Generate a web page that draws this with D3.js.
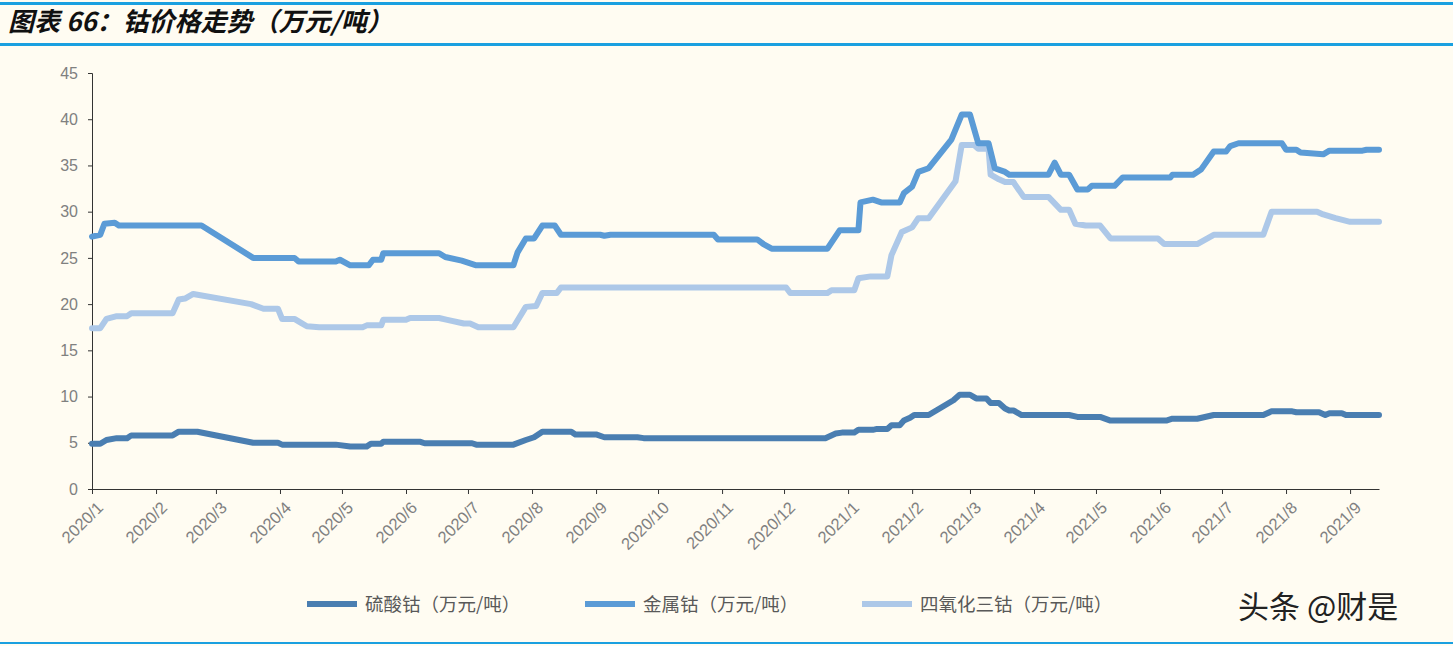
<!DOCTYPE html><html><head><meta charset="utf-8">
<script src="https://cdn.jsdelivr.net/npm/d3@7/dist/d3.min.js"></script>
<style>body{margin:0;background:#fffcf2;}svg{display:block;font-family:"Liberation Sans",Arial,sans-serif;}</style></head><body>
<svg id="c" width="1453" height="646"></svg>
<script>
const title = "图表 66：钴价格走势（万元/吨）";
const seriesNames = ["硫酸钴（万元/吨）","金属钴（万元/吨）","四氧化三钴（万元/吨）"];
const seriesColors = ["#4a7eb1","#5b9bd6","#adc8e8"];
const yTicks = [0,5,10,15,20,25,30,35,40,45];
const xTickLabels = ["2020/1","2020/2","2020/3","2020/4","2020/5","2020/6","2020/7","2020/8","2020/9","2020/10","2020/11","2020/12","2021/1","2021/2","2021/3","2021/4","2021/5","2021/6","2021/7","2021/8","2021/9"];

const sulfateDates = ["2020-01-01","2020-01-05","2020-01-08","2020-01-13","2020-01-18","2020-01-20","2020-02-09","2020-02-12","2020-02-21","2020-03-19","2020-03-31","2020-04-02","2020-04-28","2020-05-05","2020-05-13","2020-05-15","2020-05-20","2020-05-21","2020-06-08","2020-06-10","2020-07-03","2020-07-05","2020-07-23","2020-07-29","2020-08-02","2020-08-06","2020-08-20","2020-08-22","2020-09-01","2020-09-05","2020-09-21","2020-09-24","2020-12-21","2020-12-26","2020-12-29","2021-01-04","2021-01-06","2021-01-13","2021-01-15","2021-01-20","2021-01-22","2021-01-26","2021-01-28","2021-01-31","2021-02-02","2021-02-09","2021-02-21","2021-02-24","2021-03-01","2021-03-04","2021-03-09","2021-03-11","2021-03-15","2021-03-18","2021-03-20","2021-03-22","2021-03-26","2021-04-18","2021-04-22","2021-05-03","2021-05-08","2021-06-04","2021-06-07","2021-06-19","2021-06-27","2021-07-21","2021-07-25","2021-08-04","2021-08-06","2021-08-17","2021-08-20","2021-08-22","2021-08-28","2021-08-30","2021-09-15"];
const sulfateValues = [4.9,4.9,5.3,5.5,5.5,5.8,5.8,6.2,6.2,5.0,5.0,4.8,4.8,4.6,4.6,4.9,4.9,5.1,5.1,4.95,4.95,4.8,4.8,5.3,5.6,6.2,6.2,5.9,5.9,5.6,5.6,5.5,5.5,6.0,6.1,6.1,6.4,6.4,6.5,6.5,6.9,6.9,7.4,7.7,8.0,8.0,9.6,10.2,10.2,9.8,9.8,9.3,9.3,8.7,8.5,8.5,8.0,8.0,7.8,7.8,7.4,7.4,7.6,7.6,8.0,8.0,8.4,8.4,8.3,8.3,8.0,8.2,8.2,8.0,8.0];

const metalDates = ["2020-01-01","2020-01-05","2020-01-07","2020-01-12","2020-01-14","2020-02-23","2020-03-19","2020-04-08","2020-04-10","2020-04-28","2020-04-30","2020-05-05","2020-05-14","2020-05-16","2020-05-20","2020-05-21","2020-06-17","2020-06-20","2020-06-28","2020-07-05","2020-07-23","2020-07-25","2020-07-29","2020-08-02","2020-08-06","2020-08-12","2020-08-15","2020-09-03","2020-09-05","2020-09-08","2020-10-28","2020-10-30","2020-11-18","2020-11-21","2020-11-25","2020-12-22","2020-12-28","2021-01-06","2021-01-07","2021-01-13","2021-01-17","2021-01-26","2021-01-28","2021-02-01","2021-02-04","2021-02-09","2021-02-20","2021-02-25","2021-03-01","2021-03-05","2021-03-10","2021-03-13","2021-03-18","2021-03-20","2021-04-08","2021-04-11","2021-04-14","2021-04-18","2021-04-22","2021-04-27","2021-04-29","2021-05-10","2021-05-14","2021-06-06","2021-06-07","2021-06-17","2021-06-21","2021-06-27","2021-07-03","2021-07-05","2021-07-09","2021-07-30","2021-08-01","2021-08-06","2021-08-08","2021-08-19","2021-08-22","2021-09-07","2021-09-09","2021-09-15"];
const metalValues = [27.3,27.5,28.7,28.8,28.5,28.5,25.0,25.0,24.6,24.6,24.8,24.2,24.2,24.8,24.8,25.5,25.5,25.1,24.7,24.2,24.2,25.6,27.1,27.1,28.5,28.5,27.5,27.5,27.4,27.5,27.5,27.0,27.0,26.5,26.0,26.0,28.0,28.0,31.0,31.3,31.0,31.0,32.0,32.7,34.3,34.7,37.8,40.5,40.5,37.4,37.4,34.7,34.3,34.0,34.0,35.3,34.0,34.0,32.4,32.4,32.8,32.8,33.7,33.7,34.0,34.0,34.6,36.5,36.5,37.1,37.4,37.4,36.7,36.7,36.4,36.2,36.6,36.6,36.7,36.7];

const oxideDates = ["2020-01-01","2020-01-05","2020-01-08","2020-01-13","2020-01-18","2020-01-20","2020-02-09","2020-02-12","2020-02-15","2020-02-19","2020-03-18","2020-03-24","2020-03-31","2020-04-02","2020-04-08","2020-04-11","2020-04-14","2020-04-20","2020-05-11","2020-05-13","2020-05-20","2020-05-21","2020-06-01","2020-06-03","2020-06-17","2020-06-21","2020-06-29","2020-07-02","2020-07-06","2020-07-23","2020-07-29","2020-08-03","2020-08-06","2020-08-13","2020-08-15","2020-12-02","2020-12-04","2020-12-22","2020-12-24","2021-01-04","2021-01-06","2021-01-12","2021-01-20","2021-01-22","2021-01-27","2021-02-01","2021-02-04","2021-02-09","2021-02-22","2021-02-25","2021-03-03","2021-03-05","2021-03-10","2021-03-11","2021-03-15","2021-03-18","2021-03-22","2021-03-27","2021-04-08","2021-04-14","2021-04-18","2021-04-21","2021-04-26","2021-05-03","2021-05-08","2021-05-31","2021-06-03","2021-06-19","2021-06-27","2021-07-21","2021-07-25","2021-08-16","2021-08-19","2021-08-25","2021-09-01","2021-09-15"];
const oxideValues = [17.4,17.4,18.4,18.7,18.7,19.0,19.0,20.5,20.6,21.1,20.0,19.5,19.5,18.4,18.4,18.0,17.6,17.5,17.5,17.7,17.7,18.3,18.3,18.5,18.5,18.3,17.9,17.9,17.5,17.5,19.7,19.8,21.2,21.2,21.8,21.8,21.2,21.2,21.5,21.5,22.8,23.0,23.0,25.3,27.8,28.3,29.3,29.3,33.3,37.2,37.2,36.8,36.8,34.0,33.5,33.2,33.2,31.6,31.6,30.2,30.2,28.7,28.5,28.5,27.1,27.1,26.5,26.5,27.5,27.5,30.0,30.0,29.7,29.3,28.9,28.9];

const svg = d3.select("#c");
const W=1453,H=646;
svg.append("rect").attr("width",W).attr("height",H).attr("fill","#fffcf2");
svg.append("rect").attr("x",0).attr("y",2).attr("width",W).attr("height",3).attr("fill","#1aa0e0");
svg.append("rect").attr("x",0).attr("y",43).attr("width",W).attr("height",3).attr("fill","#1aa0e0");
svg.append("rect").attr("x",0).attr("y",642).attr("width",W).attr("height",2).attr("fill","#1aa0e0");
svg.append("text").attr("x",8).attr("y",31).attr("font-size",26).attr("font-weight","bold").attr("font-style","italic")
  .attr("font-family","'Noto Sans CJK SC',sans-serif").attr("fill","#111").text(title);

const parse = d3.timeParse("%Y-%m-%d");
const x = d3.scaleTime().domain([parse("2020-01-01"),parse("2021-09-15")]).range([92,1379]);
const y = d3.scaleLinear().domain([0,45]).range([489,73]);

const yAx = svg.append("g").attr("transform","translate(92,0)")
  .call(d3.axisLeft(y).tickValues(yTicks).tickSize(4).tickPadding(10).tickFormat(d3.format("d")));
yAx.select(".domain").attr("stroke","#333").attr("d","M-4,73.5H0.5V489");
yAx.selectAll("line").attr("stroke","#333");
yAx.selectAll("text").attr("font-size",16).attr("fill","#808080");

const tickDates = xTickLabels.map(s=>{const [a,b]=s.split("/");return new Date(+a,+b-1,1);});
const xAx = svg.append("g").attr("transform","translate(0,489)")
  .call(d3.axisBottom(x).tickValues(tickDates).tickSize(5).tickSizeOuter(0).tickFormat((d,i)=>xTickLabels[i]));
xAx.select(".domain").attr("stroke","#333");
xAx.selectAll("line").attr("stroke","#333");
xAx.selectAll("text").attr("font-size",16.5).attr("fill","#808080")
  .attr("text-anchor","end").attr("dy","0").attr("transform","translate(6,14) rotate(-45)");

const line = d3.line().x(d=>x(d[0])).y(d=>y(d[1]));
const data = [[sulfateDates,sulfateValues],[metalDates,metalValues],[oxideDates,oxideValues]];
[2,1,0].forEach(i=>{
  const pts = data[i][0].map((d,j)=>[parse(d),data[i][1][j]]);
  svg.append("path").attr("d",line(pts)).attr("fill","none").attr("stroke",seriesColors[i])
    .attr("stroke-width",6).attr("stroke-linejoin","round").attr("stroke-linecap","round");
});

const lx=[307,585,862];
seriesNames.forEach((n,i)=>{
  svg.append("line").attr("x1",lx[i]).attr("x2",lx[i]+50).attr("y1",604).attr("y2",604)
    .attr("stroke",seriesColors[i]).attr("stroke-width",6);
  svg.append("text").attr("x",lx[i]+58).attr("y",611).attr("font-size",18.5).attr("fill","#595959")
    .attr("font-family","'Noto Sans CJK SC',sans-serif").text(n);
});
svg.append("text").attr("x",1238).attr("y",618).attr("font-size",31).attr("fill","#222")
  .attr("font-family","'Noto Sans CJK SC',sans-serif").text("头条 @财是");
</script></body></html>
